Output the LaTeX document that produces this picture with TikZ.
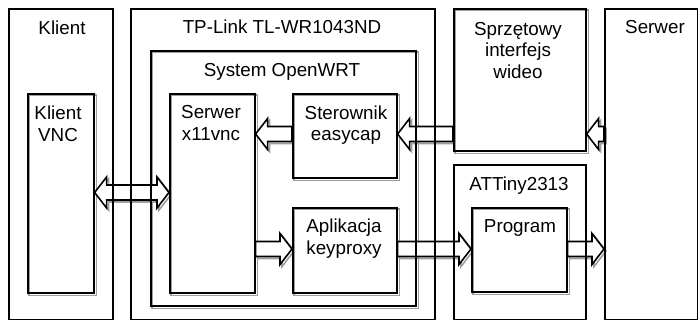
\documentclass[tikz,border=0pt]{standalone}
\usepackage{fontspec}
\setmainfont{Liberation Sans}
\usetikzlibrary{calc}
\pgfdeclarelayer{bg}
\pgfsetlayers{bg,main}
\tikzset{
  box/.style={draw, line width=1.6pt, inner sep=0pt, anchor=north west},
  shadowline/.style={draw=black!38, line width=1.6pt},
  lbl/.style={anchor=north, inner sep=0pt, align=center,
    font=\fontsize{18.8}{21.5}\selectfont},
  arrbody/.style={draw, fill=white, line width=1.6pt, line join=miter},
  arrshadow/.style={draw=black!38, line width=1.6pt,
    transform canvas={xshift=2pt,yshift=-2pt}},
}
% single block arrow from #1 to #2 (same y)
\newcommand\blockarr[2]{%
  \foreach \st in {arrshadow,arrbody}{%
  \path[\st] let \p1=(#1), \p2=(#2), \n1={sign(\x2-\x1)} in
    (\x1,{\y1+7.5pt}) -- ({\x2-\n1*12pt},{\y1+7.5pt}) -- ({\x2-\n1*12pt},{\y1+15.5pt})
    -- (\x2,\y1) -- ({\x2-\n1*12pt},{\y1-15.5pt}) -- ({\x2-\n1*12pt},{\y1-7.5pt})
    -- (\x1,{\y1-7.5pt}) -- cycle;}}
% double block arrow between #1 (left) and #2 (right)
\newcommand\dblockarr[2]{%
  \foreach \st in {arrshadow,arrbody}{%
  \path[\st] let \p1=(#1), \p2=(#2) in
    (\x1,\y1) -- ({\x1+12pt},{\y1+15.5pt}) -- ({\x1+12pt},{\y1+7.5pt})
    -- ({\x2-12pt},{\y1+7.5pt}) -- ({\x2-12pt},{\y1+15.5pt}) -- (\x2,\y1)
    -- ({\x2-12pt},{\y1-15.5pt}) -- ({\x2-12pt},{\y1-7.5pt})
    -- ({\x1+12pt},{\y1-7.5pt}) -- ({\x1+12pt},{\y1-15.5pt}) -- cycle;}}
\begin{document}
\begin{tikzpicture}[x=1pt,y=-1pt]
\useasboundingbox (0,0) rectangle (698,320);
% boxes
\node[box, minimum width=104pt, minimum height=311pt] (klient) at (8,8) {};
\node[box, minimum width=304pt, minimum height=311pt] (tplink) at (130,8) {};
\node[box, minimum width=132pt, minimum height=142pt] (sprz) at (453,8) {};
\node[box, minimum width=93pt, minimum height=311pt] (serwer) at (604,8) {};
\node[box, minimum width=265pt, minimum height=255pt] (owrt) at (150,50) {};
\node[box, minimum width=66pt, minimum height=199pt] (kvnc) at (27,93) {};
\node[box, minimum width=85pt, minimum height=199pt] (x11) at (169,93) {};
\node[box, minimum width=104pt, minimum height=84pt] (ster) at (292,93) {};
\node[box, minimum width=104pt, minimum height=85pt] (apl) at (292,207) {};
\node[box, minimum width=132pt, minimum height=155pt] (att) at (453,164) {};
\node[box, minimum width=95pt, minimum height=84pt] (prog) at (471,207) {};
% labels
\node[lbl] (lklient) at (62,20.5) {Klient};
\node[lbl] (ltp) at (282,20) {TP-Link TL-WR1043ND};
\node[lbl] (lowrt) at (282,63) {System OpenWRT};
\node[lbl] (lkvnc) at (58,106) {Klient\\VNC};
\node[lbl] (lx11) at (211,105.5) {Serwer\\x11vnc};
\node[lbl] (lster) at (346,105.5) {Sterownik\\easycap};
\node[lbl] (lsprz) at (518,22) {Sprzętowy\\interfejs\\wideo};
\node[lbl] (lserwer) at (655,20.5) {Serwer};
\node[lbl] (latt) at (519,177) {ATTiny2313};
\node[lbl] (lprog) at (520,219) {Program};
\node[lbl] (lapl) at (344,219) {Aplikacja\\keyproxy};
\begin{pgfonlayer}{bg}
  \foreach \n in {sprz,owrt,kvnc,x11,ster,apl,prog}
    \draw[shadowline] ([shift={(2,2)}]\n.north west) rectangle ([shift={(2,2)}]\n.south east);
  \dblockarr{kvnc.east |- 0,192.5}{x11.west |- 0,192.5}
  \blockarr{ster.west |- 0,134}{x11.east |- 0,134}
  \blockarr{sprz.west |- 0,134}{ster.east |- 0,134}
  \blockarr{serwer.west |- 0,134}{sprz.east |- 0,134}
  \blockarr{x11.east |- 0,249}{apl.west |- 0,249}
  \blockarr{apl.east |- 0,249}{prog.west |- 0,249}
  \blockarr{prog.east |- 0,249}{serwer.west |- 0,249}
\end{pgfonlayer}
\end{tikzpicture}
\end{document}
